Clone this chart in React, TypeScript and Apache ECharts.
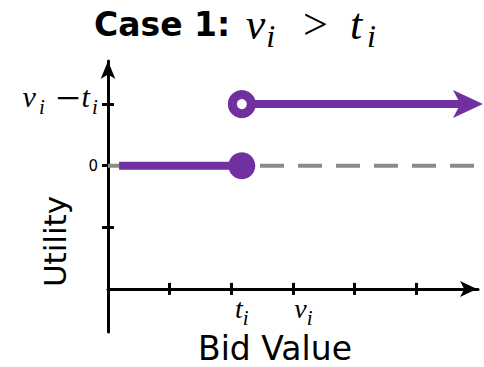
import { useEffect, useRef } from 'react';
import * as echarts from 'echarts';

const PURPLE = '#7030A0';
const DASH_GRAY = '#8a8a8a';
const MATH_FONT = '"Liberation Serif", "DejaVu Serif", serif';
const SANS_FONT = '"DejaVu Sans", "Liberation Sans", sans-serif';

// Bid value axis
const X_MIN = 0;
const X_MAX = 6;
const xTickValues = [1, 2, 3, 4, 5];
const bidThreshold = 2.17; // t_i
const bidValue = 3.17; // v_i
const xLabelValues = [bidThreshold, bidValue];
const xLabelNames = ['t', 'v'];

// Utility axis (the bid axis crosses it at 0)
const Y_MIN = -0.7;
const Y_MAX = 3.7;
const yTickValues = [1, 2, 3];
const utilityZero = 2; // utility 0
const utilityGain = 3; // utility v_i - t_i
const yLabelValues = [utilityZero, utilityGain];

// Utility as a function of the bid
const loseStart = 0.18;
const winLineEnd = 5.84;
const winArrowTip = 6.08;
const loseSegment = [
  [loseStart, utilityZero],
  [bidThreshold, utilityZero],
];
const winSegment = [
  [bidThreshold, utilityGain],
  [winLineEnd, utilityGain],
];
const winArrow = [[winArrowTip, utilityGain]];
const zeroGuide = [
  [X_MIN, utilityZero],
  [X_MAX, utilityZero],
];

const italic = { fontFamily: MATH_FONT, fontStyle: 'italic', fontWeight: 'normal', color: '#000' };

// t_i / v_i under the bid axis
const xRich = {
  m: { ...italic, fontSize: 28, lineHeight: 28 },
  s: { ...italic, fontSize: 21, lineHeight: 9, height: 9, verticalAlign: 'bottom' },
};

// 0 and v_i - t_i beside the utility axis
const subY = { ...italic, fontSize: 21, lineHeight: 32, height: 32, verticalAlign: 'bottom' };
const yRich = {
  m: { ...italic, fontSize: 30, lineHeight: 22, height: 22, verticalAlign: 'top', padding: [0, 2, 0, 0] },
  s1: { ...subY, padding: [0, 2, 0, 1] },
  s2: subY,
  o: {
    fontFamily: MATH_FONT,
    fontSize: 44,
    lineHeight: 27,
    height: 27,
    verticalAlign: 'top',
    color: '#000',
    padding: [0, 1, 0, 9],
  },
  g: { fontSize: 1, lineHeight: 38 },
  n: { fontFamily: SANS_FONT, fontSize: 15, lineHeight: 26, color: '#000' },
};

const near = (a: number, b: number) => Math.abs(a - b) < 1e-6;

export default function App() {
  const ref = useRef<HTMLDivElement>(null);

  useEffect(() => {
    if (!ref.current) return;
    const chart = echarts.init(ref.current, undefined, { renderer: 'svg' });

    const axisColor = '#000';
    const tickStyle = { color: axisColor, width: 3 };

    chart.setOption({
      animation: false,
      backgroundColor: '#fff',
      title: {
        left: 94,
        top: 0,
        padding: 0,
        text: '{b|Case 1: }{v|v}{s|i}{o|>}{t|t}{s|i}',
        textStyle: {
          rich: {
            b: { fontFamily: SANS_FONT, fontWeight: 'bold', fontSize: 33, lineHeight: 48, color: '#000' },
            v: { ...italic, fontSize: 44, lineHeight: 48, padding: [0, 1, 0, 4] },
            t: { ...italic, fontSize: 44, lineHeight: 48, padding: [0, 5, 0, 0] },
            s: { ...italic, fontSize: 32, lineHeight: 24, height: 24, verticalAlign: 'bottom' },
            o: { fontFamily: MATH_FONT, fontWeight: 'normal', fontSize: 44, lineHeight: 48, color: '#000', padding: [0, 22, 0, 28] },
          },
        },
      },
      grid: { left: 108, right: 6, top: 61, bottom: 35, containLabel: false, outerBoundsMode: 'none' },
      xAxis: [
        {
          type: 'value',
          min: X_MIN,
          max: X_MAX,
          position: 'bottom',
          axisLine: {
            onZero: true,
            lineStyle: { color: axisColor, width: 3 },
            symbol: ['none', 'arrow'],
            symbolSize: [12, 17],
            symbolOffset: [0, -1],
          },
          axisTick: { show: true, customValues: xTickValues, length: 6, inside: false, lineStyle: tickStyle },
          axisLabel: {
            show: true,
            customValues: xLabelValues,
            margin: -38,
            formatter: (value: number) => {
              const idx = xLabelValues.findIndex((v) => near(v, value));
              return idx < 0 ? '' : `{m|${xLabelNames[idx]}}{s|i}`;
            },
            rich: xRich,
          },
          splitLine: { show: false },
          name: 'Bid Value',
          nameLocation: 'middle',
          nameGap: 1,
          nameMoveOverlap: false,
          nameTextStyle: { fontFamily: SANS_FONT, fontSize: 33, lineHeight: 30, color: '#000', padding: [0, 36, 0, 0] },
        },
        {
          type: 'value',
          min: X_MIN,
          max: X_MAX,
          position: 'bottom',
          axisLine: { show: false, onZero: true },
          axisTick: { show: true, customValues: xTickValues, length: 6, inside: true, lineStyle: tickStyle },
          axisLabel: { show: false },
          splitLine: { show: false },
        },
      ],
      yAxis: [
        {
          type: 'value',
          min: Y_MIN,
          max: Y_MAX,
          position: 'left',
          axisLine: {
            onZero: true,
            lineStyle: { color: axisColor, width: 3 },
            symbol: ['none', 'arrow'],
            symbolSize: [11, 18],
            symbolOffset: [0, 0],
          },
          axisTick: { show: true, customValues: yTickValues, length: 6, inside: false, lineStyle: tickStyle },
          axisLabel: {
            show: true,
            customValues: yLabelValues,
            margin: 10,
            formatter: (value: number) => {
              if (near(value, utilityZero)) return '{n|0}';
              if (near(value, utilityGain)) return '{m|v}{s1|i}{o|−}{m|t}{s2|i}{g| }';
              return '';
            },
            rich: yRich,
          },
          splitLine: { show: false },
          name: 'Utility',
          nameLocation: 'middle',
          nameRotate: 90,
          nameGap: 38,
          nameMoveOverlap: false,
          nameTextStyle: { fontFamily: SANS_FONT, fontSize: 31, color: '#000', padding: [0, 90, 0, 0] },
        },
        {
          type: 'value',
          min: Y_MIN,
          max: Y_MAX,
          position: 'left',
          axisLine: { show: false, onZero: true },
          axisTick: { show: true, customValues: yTickValues, length: 6, inside: true, lineStyle: tickStyle },
          axisLabel: { show: false },
          splitLine: { show: false },
        },
      ],
      series: [
        {
          type: 'line',
          name: 'zero',
          data: zeroGuide,
          symbol: 'none',
          silent: true,
          z: 1,
          lineStyle: { color: DASH_GRAY, width: 4, type: [24, 14] },
        },
        {
          type: 'line',
          name: 'lose',
          clip: false,
          z: 3,
          symbol: 'circle',
          data: [
            { value: loseSegment[0], symbol: 'none' },
            { value: loseSegment[1], symbol: 'circle', symbolSize: 27, itemStyle: { color: PURPLE, borderWidth: 0 } },
          ],
          lineStyle: { color: PURPLE, width: 8 },
        },
        {
          type: 'line',
          name: 'win',
          clip: false,
          z: 3,
          symbol: 'circle',
          data: [
            {
              value: winSegment[0],
              symbol: 'circle',
              symbolSize: 19,
              itemStyle: { color: '#fff', borderColor: PURPLE, borderWidth: 9 },
            },
            { value: winSegment[1], symbol: 'none' },
          ],
          lineStyle: { color: PURPLE, width: 8 },
        },
        {
          type: 'scatter',
          name: 'win-arrow',
          clip: false,
          z: 4,
          data: winArrow,
          symbol: 'arrow',
          symbolSize: [21, 30],
          symbolRotate: -90,
          itemStyle: { color: PURPLE, opacity: 1 },
        },
      ],
    });

    return () => chart.dispose();
  }, []);

  return (
    <div
      ref={ref}
      style={{ position: 'fixed', left: 0, top: 0, width: 484, height: 367, background: '#fff' }}
    />
  );
}
